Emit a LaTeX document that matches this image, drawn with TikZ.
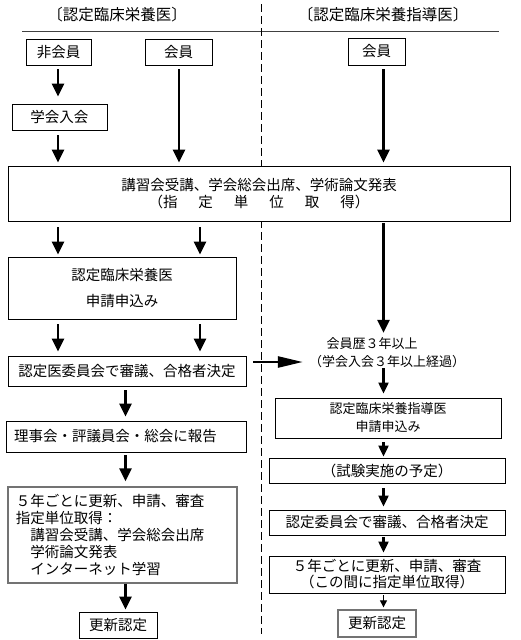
\documentclass[tikz,border=0pt]{standalone}
\usepackage{fontspec}
\setmainfont{Noto Sans CJK JP}
\usetikzlibrary{arrows.meta}
\newcommand\fs{\fontsize{14.5pt}{17pt}\selectfont}
\newcommand\fss{\fontsize{13pt}{18pt}\selectfont}
\newcommand\fst{\fontsize{15.5pt}{18pt}\selectfont}
\begin{document}
\begin{tikzpicture}[x=1pt,y=-1pt,
  box/.style={draw, fill=white, line width=0.9pt, inner sep=0pt, align=center, font=\fs},
  grbox/.style={box, draw=black!55, line width=1.3pt},
  plain/.style={inner sep=0pt, align=center, font=\fs},
  bigar/.style={line width=2.6pt, -{Triangle[width=12pt,length=13pt]}},
  medar/.style={line width=2.2pt, -{Triangle[width=10pt,length=11pt]}},
  thinar/.style={line width=1pt, -{Triangle[width=7pt,length=7pt]}},
  harr/.style={line width=2.6pt, -{Triangle[width=11pt,length=25pt]}},
  rule/.style={line width=0.8pt, black!75},
  divider/.style={line width=1pt, dash pattern=on 8pt off 4pt}]
\fill[white] (0,0) rectangle (520,640);
\useasboundingbox (0,0) rectangle (520,640);

% titles and dividers
\node[plain, font=\fst] (tL) at (117,15) {〔認定臨床栄養医〕};
\node[plain, font=\fst] (tR) at (383,15) {〔認定臨床栄養指導医〕};
\coordinate (ruleA) at (22,31);
\coordinate (ruleB) at (499,31);
\draw[rule] (ruleA) -- (ruleB);
\coordinate (divA) at (261,4);
\coordinate (divB) at (261,634);
\draw[divider] (divA) -- (divB);

% column positions for arrows
\coordinate (xa) at (58,0);
\coordinate (xb) at (179,0);
\coordinate (xc) at (200,0);
\coordinate (xd) at (125.5,0);
\coordinate (xr) at (383.5,0);

% left column
\node[box, minimum width=65pt, minimum height=26pt] (nonmem) at (58.5,52) {非会員};
\node[box, minimum width=67pt, minimum height=26pt] (memL) at (178.5,52) {会員};
\node[box, minimum width=95pt, minimum height=26pt] (join) at (59.5,117) {学会入会};
\node[box, minimum width=502pt, minimum height=55pt] (units) at (259,193.5)
  {講習会受講、学会総会出席、学術論文発表\\（指\hspace{21pt}定\hspace{21pt}単\hspace{21pt}位\hspace{21pt}取\hspace{21pt}得）};
\node[box, minimum width=228pt, minimum height=62pt] (applyL) at (122,288) {認定臨床栄養医\\[9pt]申請申込み};
\node[box, minimum width=238pt, minimum height=30pt] (cmtL) at (127,371) {認定医委員会で審議、合格者決定};
\node[box, minimum width=240pt, minimum height=31pt, inner xsep=8pt, text width=224pt, align=left] (rep) at (126,436.5) {理事会・評議員会・総会に報告};
\node[grbox, minimum width=229pt, minimum height=96pt, inner xsep=8pt, text width=213pt, align=left] (renew5L) at (122.5,535)
  {５年ごとに更新、申請、審査\\指定単位取得：\\　講習会受講、学会総会出席\\　学術論文発表\\　インターネット学習};
\node[box, minimum width=78pt, minimum height=26pt] (renewL) at (118,625) {更新認定};

% right column
\node[box, minimum width=57pt, minimum height=27pt] (memR) at (376.5,51.5) {会員};
\node[plain, font=\fss] (yr1) at (372,344) {会員歴３年以上};
\node[plain, font=\fss] (yr2) at (387,362) {（学会入会３年以上経過）};
\node[box, font=\fss, minimum width=226pt, minimum height=40pt] (applyR) at (388,418) {認定臨床栄養指導医\\申請申込み};
\node[box, minimum width=236pt, minimum height=25pt] (exam) at (387,470.5) {（試験実施の予定）};
\node[box, minimum width=236pt, minimum height=25pt] (cmtR) at (387,522.5) {認定委員会で審議、合格者決定};
\node[box, font=\fontsize{14.5pt}{16pt}\selectfont, minimum width=236pt, minimum height=37pt] (renew5R) at (387,574.5)
  {５年ごとに更新、申請、審査\\（この間に指定単位取得）};
\node[grbox, minimum width=78pt, minimum height=27pt] (renewR) at (377,623.5) {更新認定};

% arrows, left
\draw[bigar, shorten <=4pt, shorten >=7pt] (nonmem.south -| xa) -- (join.north -| xa);
\draw[bigar, shorten <=5pt, shorten >=3pt] (join.south -| xa) -- (units.north -| xa);
\draw[bigar, shorten <=4pt, shorten >=3pt] (memL.south -| xb) -- (units.north -| xb);
\draw[bigar, shorten <=6pt, shorten >=2pt] (units.south -| xa) -- (applyL.north -| xa);
\draw[bigar, shorten <=6pt, shorten >=2pt] (units.south -| xc) -- (applyL.north -| xc);
\draw[bigar, shorten <=5pt, shorten >=4pt] (applyL.south -| xa) -- (cmtL.north -| xa);
\draw[bigar, shorten <=5pt, shorten >=4pt] (applyL.south -| xc) -- (cmtL.north -| xc);
\draw[bigar, shorten <=4pt, shorten >=4pt] (cmtL.south -| xd) -- (rep.north -| xd);
\draw[bigar, shorten <=3pt, shorten >=5pt] (rep.south -| xd) -- (renew5L.north -| xd);
\draw[bigar, shorten >=2pt] (renew5L.south -| xd) -- (renewL.north -| xd);

% arrows, right
\draw[bigar, shorten <=4pt, shorten >=3pt] (memR.south -| xr) -- (units.north -| xr);
\draw[bigar, shorten <=2pt, shorten >=5pt] (units.south -| xr) -- (yr1.north -| xr);
\draw[medar, shorten >=4pt] (yr2.south -| xr) -- (applyR.north -| xr);
\draw[harr, shorten <=7pt, shorten >=6pt] (cmtL.east |- yr2.west) -- (yr2.west);
\draw[medar, shorten <=4pt, shorten >=1pt] (applyR.south -| xr) -- (exam.north -| xr);
\draw[medar, shorten <=5pt, shorten >=3pt] (exam.south -| xr) -- (cmtR.north -| xr);
\draw[medar, shorten <=2pt, shorten >=3pt] (cmtR.south -| xr) -- (renew5R.north -| xr);
\draw[thinar, shorten <=2pt, shorten >=2pt] (renew5R.south -| xr) -- (renewR.north -| xr);
\end{tikzpicture}
\end{document}
